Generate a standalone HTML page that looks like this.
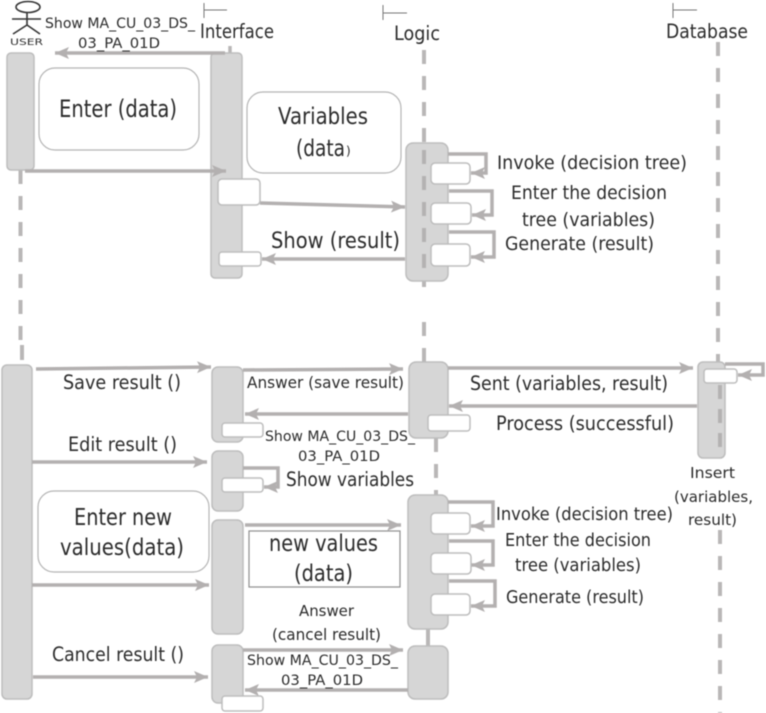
<!DOCTYPE html>
<html>
<head>
<meta charset="utf-8">
<style>
html,body{margin:0;padding:0;background:#fff}
svg{display:block}
text{font-family:"DejaVu Sans","Liberation Sans",sans-serif;fill:#2b2b2b;font-weight:normal}
.b{fill:#d6d6d6;stroke:#bdbdbd;stroke-width:1.5}
.w{fill:#fff;stroke:#bdbdbd;stroke-width:1.5}
.a{fill:none;stroke:#b3b0b0;stroke-width:3.5;marker-end:url(#m)}
.l{fill:none;stroke:#b9b7b7;stroke-width:4;stroke-dasharray:14 12}
.s{fill:none;stroke:#777;stroke-width:1}
#all{filter:blur(0.45px)}
</style>
</head>
<body>
<svg xmlns="http://www.w3.org/2000/svg" width="766" height="713" viewBox="0 0 766 713">
<defs>
<marker id="m" markerUnits="userSpaceOnUse" markerWidth="15" markerHeight="14" refX="14" refY="7" orient="auto">
<path d="M0 1L14 7L0 13L3 7Z" fill="#b3b0b0"/>
</marker>
</defs>
<rect width="766" height="713" fill="#fff"/>
<g id="all">
<!-- lifelines -->
<path class="l" d="M20.5 170V350"/>
<path class="l" d="M22 345V360" style="stroke-dasharray:none"/>
<path class="l" d="M424 50V143"/>
<path class="l" d="M424 143V296"/>
<path class="l" d="M424 322V362"/>
<path class="l" d="M436 438V495"/>
<path d="M428 629V646" fill="none" stroke="#b9b7b7" stroke-width="4"/>
<path class="l" d="M718 42V362"/>
<path class="l" d="M720 530V713"/>
<path d="M230 46V53" stroke="#b9b7b7" stroke-width="3.5"/>

<!-- actor -->
<ellipse cx="28" cy="7" rx="12" ry="5.5" fill="#fff" stroke="#333" stroke-width="1.6"/>
<path d="M27 12V25M12 19H41M27 25L13 34M27 25L40 34" fill="none" stroke="#333" stroke-width="1.6"/>
<text x="10" y="45" font-size="8.5" textLength="33" lengthAdjust="spacingAndGlyphs">USER</text>

<!-- header ticks -->
<path class="s" d="M204 3V18M204 10H227M383 5V20M383 13H407M673 3V18M673 10H697"/>

<!-- activation boxes -->
<rect class="b" x="7" y="53" width="27" height="117" rx="4"/>
<rect class="b" x="211" y="53" width="31" height="225" rx="4"/>
<rect class="b" x="406" y="143" width="42" height="138" rx="7"/>
<path d="M424 150V275" stroke="#b4b2b2" stroke-width="4" stroke-dasharray="14 12" fill="none"/>
<rect class="b" x="2" y="365" width="30" height="334" rx="5"/>
<rect class="b" x="212" y="367" width="31" height="75" rx="6"/>
<rect class="b" x="212" y="451" width="31" height="60" rx="6"/>
<rect class="b" x="212" y="520" width="31" height="114" rx="6"/>
<rect class="b" x="212" y="645" width="31" height="58" rx="6"/>
<rect class="b" x="409" y="362" width="39" height="76" rx="7"/>
<rect class="b" x="408" y="495" width="40" height="134" rx="7"/>
<rect class="b" x="408" y="646" width="40" height="53" rx="7"/>
<rect class="b" x="698" y="362" width="27" height="96" rx="5"/>
<path d="M720 385V450" stroke="#b4b2b2" stroke-width="4" stroke-dasharray="14 10" fill="none"/>

<!-- note boxes -->
<rect x="39" y="68" width="160" height="82" rx="16" fill="#fff" stroke="#b5b5b5" stroke-width="1.2"/>
<rect x="247" y="92" width="154" height="81" rx="16" fill="#fff" stroke="#b5b5b5" stroke-width="1.2"/>
<rect x="38" y="491" width="171" height="81" rx="16" fill="#fff" stroke="#b5b5b5" stroke-width="1.2"/>
<rect x="249" y="531" width="151" height="56" fill="#fff" stroke="#8f8f8f" stroke-width="1.2"/>

<!-- arrows -->
<path class="a" d="M225 53H55"/>
<path class="a" d="M25 171H226"/>
<path class="a" d="M260 203L405 207"/>
<path class="a" d="M405 259H262"/>
<path class="a" d="M448 154H486V173H471"/>
<path class="a" d="M449 191H492V215H472"/>
<path class="a" d="M449 232H494V257H471"/>
<path class="a" d="M36 369L211 367"/>
<path class="a" d="M243 370L403 369"/>
<path class="a" d="M408 414H245"/>
<path class="a" d="M448 368H693"/>
<path class="a" d="M697 406H449"/>
<path class="a" d="M725 364H763V375H738"/>
<path class="a" d="M32 462H207"/>
<path class="a" d="M243 468H278V487H264"/>
<path class="a" d="M32 585H209"/>
<path class="a" d="M245 525H401"/>
<path class="a" d="M33 677H208"/>
<path class="a" d="M243 650H403"/>
<path class="a" d="M408 690H245"/>
<path class="a" d="M448 502H493V526H471"/>
<path class="a" d="M449 541H493V565H471"/>
<path class="a" d="M449 581H495V606H471"/>

<!-- white execution boxes -->
<rect class="w" x="218" y="179" width="42" height="26" rx="4"/>
<rect class="w" x="219" y="252" width="42" height="14" rx="3"/>
<rect class="w" x="431" y="163" width="39" height="21" rx="4"/>
<rect class="w" x="431" y="203" width="40" height="21" rx="4"/>
<rect class="w" x="431" y="244" width="39" height="22" rx="4"/>
<rect class="w" x="222" y="423" width="41" height="14" rx="3"/>
<rect class="w" x="428" y="415" width="42" height="16" rx="3"/>
<rect class="w" x="222" y="478" width="41" height="14" rx="3"/>
<rect class="w" x="431" y="513" width="39" height="21" rx="4"/>
<rect class="w" x="431" y="553" width="40" height="21" rx="4"/>
<rect class="w" x="431" y="594" width="39" height="21" rx="4"/>
<rect class="w" x="222" y="696" width="41" height="15" rx="3"/>
<rect class="w" x="704" y="369" width="33" height="14" rx="3"/>

<!-- labels -->
<text x="45" y="28" font-size="14.5" textLength="150" lengthAdjust="spacingAndGlyphs">Show MA_CU_03_DS_</text>
<text x="78" y="48" font-size="14.5" textLength="82" lengthAdjust="spacingAndGlyphs">03_PA_01D</text>
<text x="200" y="38" font-size="19.5" textLength="74" lengthAdjust="spacingAndGlyphs">Interface</text>
<text x="394" y="40" font-size="19.5" textLength="46" lengthAdjust="spacingAndGlyphs">Logic</text>
<text x="666" y="38" font-size="19.5" textLength="82" lengthAdjust="spacingAndGlyphs">Database</text>

<text x="59" y="117" font-size="24" textLength="118" lengthAdjust="spacingAndGlyphs">Enter (data)</text>
<text x="278" y="124" font-size="23" textLength="90" lengthAdjust="spacingAndGlyphs">Variables</text>
<text x="296" y="156" font-size="23" textLength="49" lengthAdjust="spacingAndGlyphs">(data</text>
<text x="346" y="155" font-size="12">)</text>
<text x="271" y="248" font-size="22" textLength="129" lengthAdjust="spacingAndGlyphs">Show (result)</text>
<text x="497" y="169" font-size="19" textLength="190" lengthAdjust="spacingAndGlyphs">Invoke (decision tree)</text>
<text x="511" y="199" font-size="19" textLength="156" lengthAdjust="spacingAndGlyphs">Enter the decision</text>
<text x="522" y="226" font-size="19" textLength="133" lengthAdjust="spacingAndGlyphs">tree (variables)</text>
<text x="505" y="250" font-size="19" textLength="149" lengthAdjust="spacingAndGlyphs">Generate (result)</text>

<text x="63" y="389" font-size="19.5" textLength="118" lengthAdjust="spacingAndGlyphs">Save result ()</text>
<text x="247" y="388" font-size="16" textLength="157" lengthAdjust="spacingAndGlyphs">Answer (save result)</text>
<text x="470" y="390" font-size="19.5" textLength="198" lengthAdjust="spacingAndGlyphs">Sent (variables, result)</text>
<text x="496" y="430" font-size="19.5" textLength="178" lengthAdjust="spacingAndGlyphs">Process (successful)</text>
<text x="265" y="441" font-size="14.5" textLength="150" lengthAdjust="spacingAndGlyphs">Show MA_CU_03_DS_</text>
<text x="298" y="461" font-size="14.5" textLength="82" lengthAdjust="spacingAndGlyphs">03_PA_01D</text>
<text x="68" y="451" font-size="19.5" textLength="109" lengthAdjust="spacingAndGlyphs">Edit result ()</text>
<text x="286" y="486" font-size="19.5" textLength="128" lengthAdjust="spacingAndGlyphs">Show variables</text>
<text x="496" y="520" font-size="18" textLength="177" lengthAdjust="spacingAndGlyphs">Invoke (decision tree)</text>
<text x="505" y="546" font-size="17.5" textLength="146" lengthAdjust="spacingAndGlyphs">Enter the decision</text>
<text x="515" y="571" font-size="17.5" textLength="126" lengthAdjust="spacingAndGlyphs">tree (variables)</text>
<text x="506" y="603" font-size="17.5" textLength="138" lengthAdjust="spacingAndGlyphs">Generate (result)</text>
<text x="690" y="478" font-size="15" textLength="45" lengthAdjust="spacingAndGlyphs">Insert</text>
<text x="674" y="502" font-size="15" textLength="79" lengthAdjust="spacingAndGlyphs">(variables,</text>
<text x="688" y="525" font-size="15" textLength="49" lengthAdjust="spacingAndGlyphs">result)</text>
<text x="74" y="525" font-size="23" textLength="98" lengthAdjust="spacingAndGlyphs">Enter new</text>
<text x="60" y="555" font-size="23" textLength="124" lengthAdjust="spacingAndGlyphs">values(data)</text>
<text x="269" y="551" font-size="23" textLength="109" lengthAdjust="spacingAndGlyphs">new values</text>
<text x="294" y="581" font-size="23" textLength="59" lengthAdjust="spacingAndGlyphs">(data)</text>
<text x="299" y="616" font-size="15" textLength="55" lengthAdjust="spacingAndGlyphs">Answer</text>
<text x="272" y="640" font-size="16" textLength="109" lengthAdjust="spacingAndGlyphs">(cancel result)</text>
<text x="52" y="661" font-size="19.5" textLength="132" lengthAdjust="spacingAndGlyphs">Cancel result ()</text>
<text x="247" y="665" font-size="14.5" textLength="151" lengthAdjust="spacingAndGlyphs">Show MA_CU_03_DS_</text>
<text x="281" y="685" font-size="14.5" textLength="82" lengthAdjust="spacingAndGlyphs">03_PA_01D</text>
</g>
</svg>
</body>
</html>
